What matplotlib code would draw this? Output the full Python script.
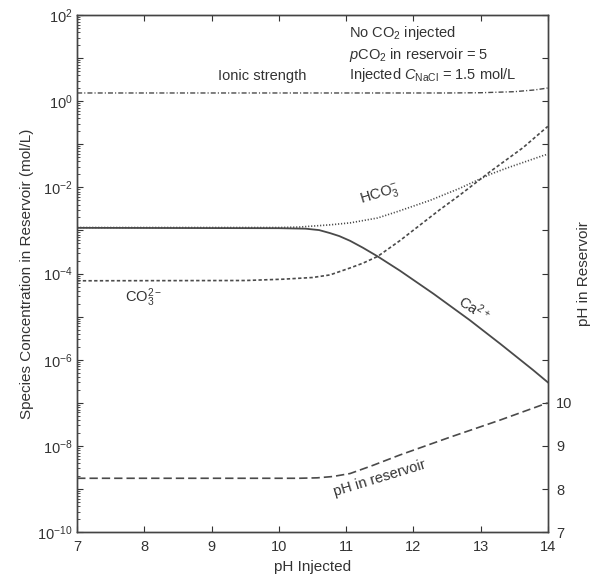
import numpy as np
import matplotlib
matplotlib.use("Agg")
import matplotlib.pyplot as plt
from matplotlib.ticker import FixedLocator, FuncFormatter, LogLocator, NullFormatter

plt.rcParams["font.family"] = ["Liberation Sans", "DejaVu Sans"]
plt.rcParams["mathtext.fontset"] = "custom"
plt.rcParams["mathtext.rm"] = "Liberation Sans"
plt.rcParams["mathtext.it"] = "Liberation Sans:italic"
plt.rcParams["mathtext.bf"] = "Liberation Sans:bold"

# species concentrations (mol/L) vs injected pH
ph_ca = [7.0, 10.0, 10.4, 10.6, 10.76, 10.9, 11.06, 11.25, 11.47, 11.8, 12.3, 12.84, 13.3, 13.78, 14.0]
ca = [1.15e-3, 1.13e-3, 1.10e-3, 1.02e-3, 8.7e-4, 7.4e-4, 5.75e-4, 3.98e-4, 2.5e-4,
      1.17e-4, 3.4e-5, 8.3e-6, 2.3e-6, 5.8e-7, 3.0e-7]

ph_co3 = [7.0, 9.5, 10.06, 10.5, 10.76, 11.06, 11.25, 11.47, 11.8, 12.39, 12.69, 13.14, 13.63, 14.0]
co3 = [6.8e-5, 6.9e-5, 7.4e-5, 8.1e-5, 9.3e-5, 1.35e-4, 1.74e-4, 2.5e-4, 5.8e-4,
       3.0e-3, 6.6e-3, 2.3e-2, 8.3e-2, 2.6e-1]

ph_hco3 = [7.0, 10.0, 10.3, 10.76, 11.06, 11.47, 11.75, 12.25, 12.69, 13.14, 13.39, 13.92, 14.0]
hco3 = [1.17e-3, 1.17e-3, 1.2e-3, 1.35e-3, 1.5e-3, 1.95e-3, 2.7e-3, 5.0e-3,
        9.5e-3, 2.0e-2, 2.8e-2, 5.4e-2, 5.9e-2]

ph_ionic = [7.0, 12.5, 13.0, 13.5, 13.8, 14.0]
ionic = [1.55, 1.55, 1.57, 1.66, 1.82, 2.02]

# pH in reservoir (right axis)
ph_res_x = [7.0, 10.0, 10.3, 10.57, 10.8, 11.06, 11.4, 11.8, 12.54, 13.29, 14.0]
ph_res = [8.25, 8.25, 8.25, 8.26, 8.29, 8.36, 8.55, 8.79, 9.2, 9.6, 10.0]

line_col = "#4a4a4a"
text_col = "#333333"

fig = plt.figure(figsize=(5.98, 5.88), dpi=100)
ax = fig.add_axes([0.129, 0.095, 0.787, 0.8795])

ax.plot(ph_ionic, ionic, color=line_col, lw=1.0, linestyle=(0, (3.6, 1.5, 0.8, 1.5)))
ax.plot(ph_hco3, hco3, color=line_col, lw=1.2, linestyle=(0, (0.7, 1.1)))
ax.plot(ph_co3, co3, color=line_col, lw=1.2, linestyle=(0, (2.0, 1.4)))
ax.plot(ph_ca, ca, color=line_col, lw=1.3, linestyle="-")

ax.set_yscale("log")
ax.set_xlim(7, 14)
ax.set_ylim(1e-10, 1e2)
ax.set_xticks(range(7, 15))
ax.yaxis.set_major_locator(FixedLocator([10.0 ** e for e in range(-10, 3)]))
ax.yaxis.set_major_formatter(FuncFormatter(
    lambda v, p: r"$10^{%d}$" % round(np.log10(v)) if round(np.log10(v)) % 2 == 0 else ""))
ax.yaxis.set_minor_locator(LogLocator(base=10, subs=np.arange(2, 10), numticks=100))
ax.yaxis.set_minor_formatter(NullFormatter())
ax.tick_params(which="both", direction="in", top=True, right=False, colors=text_col,
               labelsize=10.5)
ax.tick_params(which="major", length=4)
ax.tick_params(which="minor", length=2)
ax.tick_params(axis="x", pad=6)

ax.set_xlabel("pH Injected", fontsize=11, color=text_col, labelpad=4)
ax.set_ylabel("Species Concentration in Reservoir (mol/L)", fontsize=11, color=text_col,
              labelpad=2)

ax2 = ax.twinx()
ax2.plot(ph_res_x, ph_res, color=line_col, lw=1.2, linestyle=(0, (5.0, 2.4)))
ax2.set_ylim(7, 19)
ax2.set_yticks(range(7, 20))
ax2.set_yticklabels([str(v) if v <= 10 else "" for v in range(7, 20)])
ax2.tick_params(direction="in", length=4, colors=text_col, labelsize=10.5, pad=6)
ax2.set_ylabel("pH in Reservoir", fontsize=11, color=text_col, labelpad=3)

for a in (ax, ax2):
    for s in a.spines.values():
        s.set_color("#444444")
        s.set_linewidth(1.0)

# annotations
ax.text(9.1, 10 ** 0.58, "Ionic strength", fontsize=10.5, color=text_col, va="center")
ax.text(11.04, 10 ** 1.58, "No CO$_2$ injected", fontsize=10.5, color=text_col, va="center")
ax.text(11.04, 10 ** 1.07, "$p$CO$_2$ in reservoir = 5", fontsize=10.5, color=text_col,
        va="center")
ax.text(11.04, 10 ** 0.61, "Injected $C_{\\mathrm{NaCl}}$ = 1.5 mol/L", fontsize=10.5,
        color=text_col, va="center")
ax.text(11.5, 10 ** -2.17, "HCO$_3^{-}$", fontsize=10.5, color=text_col, ha="center",
        va="center", rotation=17)
ax.text(7.71, 10 ** -4.55, "CO$_3^{2-}$", fontsize=10.5, color=text_col, va="center")
ax.text(12.91, 10 ** -4.8, "Ca$^{2+}$", fontsize=10.5, color=text_col, ha="center",
        va="center", rotation=-33)
ax2.text(11.5, 8.25, "pH in reservoir", fontsize=10.5, color=text_col, ha="center",
         va="center", rotation=17)

fig.savefig("out.png", dpi=100)
